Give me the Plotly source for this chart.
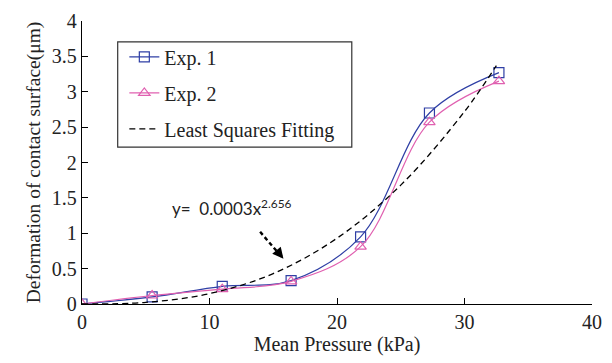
import plotly.graph_objects as go

# Data
pressure = [0, 5.5, 11.0, 16.4, 21.85, 27.25, 32.7]
exp1 = [0, 0.10, 0.25, 0.33, 0.95, 2.70, 3.27]
exp2 = [0, 0.12, 0.21, 0.32, 0.81, 2.57, 3.15]
fit_x = [0, 5, 10, 15, 20, 25, 30, 32.5]
fit_y = [0, 0.023, 0.147, 0.43, 0.93, 1.68, 2.72, 3.37]
x_ticks = [0, 10, 20, 30, 40]
y_ticks = [0, 0.5, 1, 1.5, 2, 2.5, 3, 3.5, 4]

serif = "Liberation Serif"
blue = "#2F3FA5"
pink = "#E060B0"
txt = "#222222"

fig = go.Figure()
fig.add_trace(go.Scatter(
    x=pressure, y=exp1, name="Exp. 1", mode="lines+markers",
    line=dict(color=blue, width=1.2, shape="spline", smoothing=1),
    marker=dict(symbol="square-open", size=10, color=blue, line=dict(width=1.2)),
    legendgroup="a"))
fig.add_trace(go.Scatter(
    x=pressure, y=exp2, name="Exp. 2", mode="lines+markers",
    line=dict(color=pink, width=1.2, shape="spline", smoothing=1),
    marker=dict(symbol="triangle-up-open", size=10, color=pink, line=dict(width=1.2)),
    legendgroup="b"))
fig.add_trace(go.Scatter(
    x=fit_x, y=fit_y, name="Least Squares Fitting", mode="lines",
    line=dict(color="black", width=1.3, dash="6px,4px", shape="spline", smoothing=1),
    legendgroup="c"))

axis_common = dict(
    showline=True, linecolor="black", linewidth=1.3,
    ticks="inside", ticklen=6, tickwidth=1.2, tickcolor="black",
    showgrid=False, zeroline=False,
    tickfont=dict(family=serif, size=20, color=txt),
)
fig.update_xaxes(range=[0, 40], tickvals=x_ticks,
                 title=dict(text="Mean Pressure (kPa)", font=dict(family=serif, size=20, color=txt), standoff=4),
                 **axis_common)
fig.update_yaxes(range=[0, 4], tickvals=y_ticks,
                 title=dict(text="Deformation of contact surface(μm)", font=dict(family=serif, size=19.5, color=txt), standoff=6),
                 **axis_common)

# legend box
fig.add_shape(type="rect", xref="paper", yref="paper",
              x0=0.07, x1=0.529, y0=0.554, y1=0.926,
              line=dict(color="#333", width=1.2), fillcolor="rgba(0,0,0,0)")

# equation annotation
fig.add_annotation(x=11.8, y=1.37, xref="x", yref="y",
                   text="y=  0.0003x<sup>2.656</sup>", showarrow=False,
                   font=dict(family="Lato", size=17, color=txt))
# dashed arrow
fig.add_shape(type="line", x0=13.97, y0=1.02, x1=15.45, y1=0.71,
              line=dict(color="black", width=2.4, dash="4px,3px"))
fig.add_annotation(x=15.8, y=0.64, ax=15.3, ay=0.75, xref="x", yref="y",
                   axref="x", ayref="y", text="", showarrow=True,
                   arrowhead=2, arrowsize=1, arrowwidth=2.2, arrowcolor="black")

fig.update_layout(
    width=612, height=363,
    margin=dict(l=82, r=10, t=13, b=59),
    plot_bgcolor="white", paper_bgcolor="white",
    legend=dict(x=0.083, y=0.942, xanchor="left", yanchor="top",
                bgcolor="rgba(0,0,0,0)", borderwidth=0,
                font=dict(family=serif, size=20, color=txt),
                tracegroupgap=7, itemwidth=30),
    showlegend=True,
)

fig.write_html("out.html")
